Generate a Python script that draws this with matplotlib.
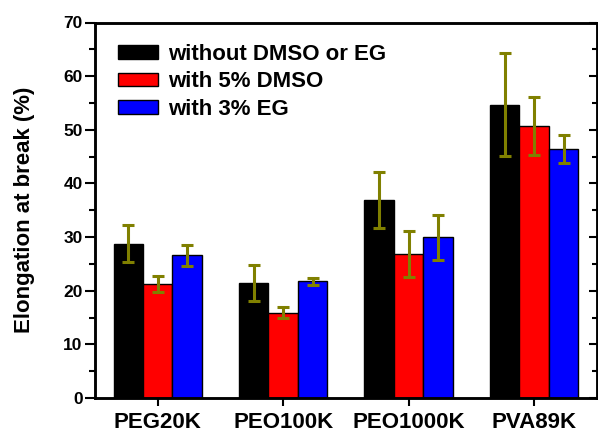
import numpy as np
import matplotlib
matplotlib.use("Agg")
import matplotlib.pyplot as plt

plt.rcParams['font.family'] = ['Liberation Sans', 'DejaVu Sans']
plt.rcParams['font.weight'] = 'bold'

# data
samples = ["PEG20K", "PEO100K", "PEO1000K", "PVA89K"]
labels = ["without DMSO or EG", "with 5% DMSO", "with 3% EG"]
colors = ["#000000", "#ff0000", "#0000ff"]
no_additive = [28.8, 21.4, 36.9, 54.7]
no_additive_err = [3.4, 3.4, 5.15, 9.6]
dmso = [21.2, 15.9, 26.8, 50.7]
dmso_err = [1.5, 1.0, 4.3, 5.4]
eg = [26.6, 21.8, 30.0, 46.5]
eg_err = [2.0, 0.65, 4.2, 2.6]

fig = plt.figure(figsize=(5.98, 4.29), dpi=100)
ax = fig.add_axes([95 / 598, 1 - 398 / 429, 1 - 95 / 598 - 0.002, (398 - 22.5) / 429])

x = np.arange(1, len(samples) + 1)
width = 0.235
series = [(no_additive, no_additive_err), (dmso, dmso_err), (eg, eg_err)]
for i, (vals, errs) in enumerate(series):
    pos = x + (i - 1) * width
    ax.bar(pos, vals, width, color=colors[i], edgecolor='black', linewidth=1,
           label=labels[i], zorder=2)
    ax.errorbar(pos, vals, yerr=errs, fmt='none', ecolor='#808000',
                elinewidth=2.2, capsize=4.3, capthick=2.2, zorder=3)

ax.set_xlim(0.5, 4.5)
ax.set_ylim(0, 70)
ax.set_xticks(x)
ax.set_xticklabels(samples, fontsize=16, fontweight='bold')
ax.set_yticks(np.arange(0, 71, 10))
ax.set_yticks(np.arange(5, 70, 10), minor=True)
ax.tick_params(axis='y', which='major', direction='out', length=7, width=1.5,
               labelsize=12.5, pad=2)
ax.tick_params(axis='y', which='minor', direction='out', length=4, width=1.5)
ax.tick_params(axis='x', which='major', direction='out', length=6, width=1.5, pad=4)
ax.tick_params(axis='x', which='minor', bottom=False)
for lab in ax.get_yticklabels():
    lab.set_fontweight('bold')
for s in ax.spines.values():
    s.set_linewidth(1.8)

# right side ticks point inward
ax2 = ax.twinx()
ax2.set_ylim(0, 70)
ax2.set_yticks(np.arange(0, 71, 10))
ax2.set_yticks(np.arange(5, 70, 10), minor=True)
ax2.tick_params(axis='y', which='major', direction='in', length=6, width=1.5, labelright=False)
ax2.tick_params(axis='y', which='minor', direction='in', length=3.5, width=1.5)
for s in ax2.spines.values():
    s.set_linewidth(1.8)

ax.set_ylabel("Elongation at break (%)", fontsize=16, fontweight='bold', labelpad=20)

ax.legend(loc='upper left', bbox_to_anchor=(0.015, 0.985), frameon=False,
          prop={'size': 16, 'weight': 'bold'}, handlelength=1.8, handleheight=0.55,
          handletextpad=0.45, labelspacing=0.3, borderaxespad=0.3)

fig.savefig("out.png", dpi=100)
